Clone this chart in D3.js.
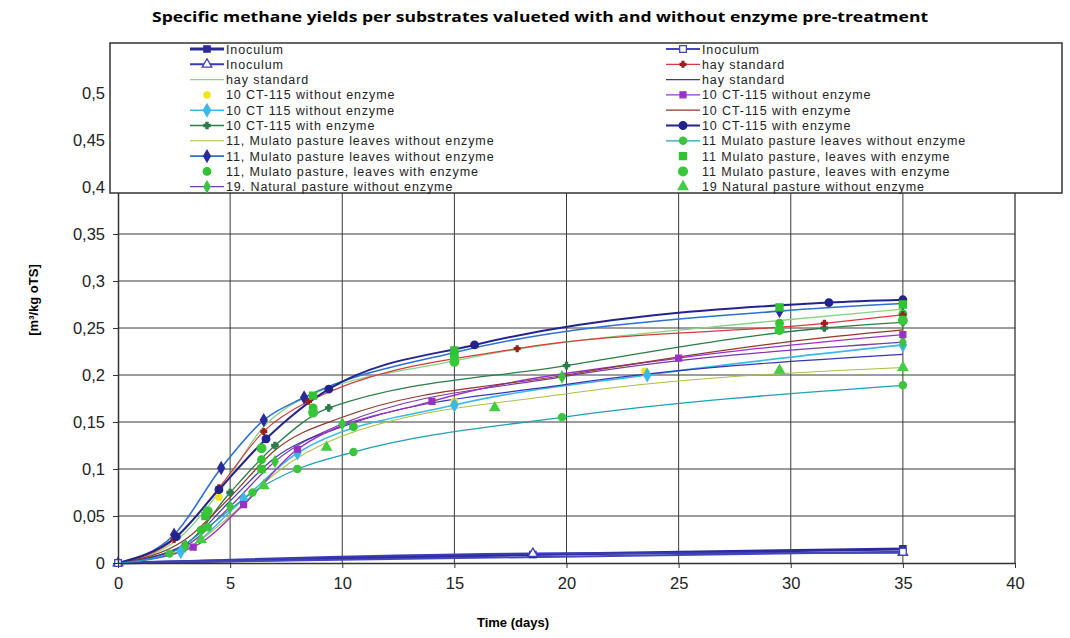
<!DOCTYPE html>
<html>
<head>
<meta charset="utf-8">
<script src="https://cdn.jsdelivr.net/npm/d3@7"></script>
<style>
  body { margin: 0; background: #fff; }
  svg { display: block; font-family: "Liberation Sans", Arial, sans-serif; }
</style>
</head>
<body>
<svg width="1070" height="638"></svg>
<script>
// tick values
const xTicks = [0, 5, 10, 15, 20, 25, 30, 35, 40];
const yTicks = [0, 0.05, 0.1, 0.15, 0.2, 0.25, 0.3, 0.35, 0.4, 0.45, 0.5];

// legend text, two columns
const legendLeft = ["Inoculum", "Inoculum", "hay standard", "10 CT-115  without enzyme", "10 CT 115  without enzyme",
  "10  CT-115  with enzyme", "11, Mulato  pasture leaves without enzyme", "11, Mulato  pasture leaves without enzyme",
  "11, Mulato  pasture, leaves with enzyme", "19. Natural pasture without enzyme"];
const legendRight = ["Inoculum", "hay standard", "hay standard", "10 CT-115  without enzyme", "10  CT-115  with enzyme",
  "10  CT-115  with enzyme", "11  Mulato pasture leaves without enzyme", "11  Mulato pasture, leaves with enzyme",
  "11  Mulato pasture, leaves with enzyme", "19  Natural pasture without enzyme"];

// series values [day, m3/kg oTS]
const inoculumA = [[0, 0], [18.5, 0.009], [35, 0.015]];
const inoculumB = [[0, 0], [18.5, 0.010], [35, 0.011]];
const inoculumC = [[0, 0], [35, 0.012]];
const hayGreen = [[0, 0], [2.5, 0.022], [4.5, 0.075], [6.5, 0.145], [8, 0.172], [15, 0.215], [29.5, 0.258], [35, 0.27]];
const hayRed = [[0, 0], [2.5, 0.025], [4.5, 0.08], [6.5, 0.14], [8.5, 0.172], [17.8, 0.228], [31.5, 0.255], [35, 0.264]];
const hayBlue = [[0, 0], [3, 0.02], [5, 0.066], [7, 0.112], [10, 0.145], [20, 0.19], [35, 0.222]];
const ct115NoYellow = [[4.5, 0.07], [8, 0.12], [15, 0.172], [23.5, 0.204]];
const ct115NoCyan = [[0, 0], [2.8, 0.012], [5.6, 0.068], [8, 0.117], [15, 0.168], [23.6, 0.2], [35, 0.232]];
const ct115NoPurple = [[0, 0], [3.35, 0.017], [5.6, 0.062], [8, 0.121], [14, 0.172], [25, 0.218], [35, 0.243]];
const ct115EnzGreen = [[0, 0], [3, 0.02], [5, 0.075], [7, 0.125], [9.4, 0.165], [20, 0.21], [31.5, 0.25], [35, 0.256]];
const ct115EnzBrown = [[0, 0], [3, 0.025], [5, 0.07], [7, 0.12], [10, 0.155], [20, 0.2], [31.6, 0.24], [35, 0.248]];
const ct115EnzNavy = [[0, 0], [2.6, 0.028], [4.5, 0.078], [6.6, 0.132], [9.4, 0.185], [15.9, 0.232], [31.7, 0.277], [35, 0.28]];
const mulatoNoOlive = [[0, 0], [3, 0.015], [5, 0.05], [7, 0.095], [10, 0.135], [20, 0.18], [35, 0.208]];
const mulatoNoBlue = [[0, 0], [2.5, 0.03], [4.6, 0.101], [6.5, 0.152], [8.3, 0.176], [15, 0.224], [29.5, 0.268], [35, 0.276]];
const mulatoNoTeal = [[0, 0], [2.3, 0.01], [4, 0.038], [6, 0.075], [8, 0.1], [10.5, 0.118], [19.8, 0.155], [35, 0.189]];
const mulatoEnzCircle = [[3.7, 0.035], [6.4, 0.11], [8.7, 0.165], [10.5, 0.145], [15, 0.22], [29.5, 0.255], [35, 0.265]];
const mulatoEnzSquare = [[3.9, 0.05], [6.4, 0.1], [8.7, 0.178], [15, 0.226], [29.5, 0.272], [35, 0.275]];
const mulatoEnzCircle2 = [[4, 0.055], [6.4, 0.122], [8.7, 0.16], [15, 0.214], [29.5, 0.248], [35, 0.258]];
const naturalPurple = [[0, 0], [3, 0.018], [5, 0.06], [7, 0.108], [10, 0.148], [19.8, 0.198], [35, 0.235]];
const naturalTri = [[3.7, 0.025], [6.5, 0.082], [9.3, 0.123], [16.8, 0.165], [29.5, 0.205], [35, 0.208]];

// styles, in legend order (left column then right column)
const series = [
  { data: inoculumA, line: "#2b2b9a", w: 3, sym: d3.symbolSquare, fill: "#2b2b9a", stroke: "#2b2b9a", size: 40, zero: true },
  { data: inoculumB, line: "#3b3bb5", w: 2, sym: d3.symbolTriangle, fill: "#fff", stroke: "#3b3bb5", size: 40, zero: true },
  { data: hayGreen, line: "#86d486", w: 1.3 },
  { data: ct115NoYellow, line: null, sym: d3.symbolCircle, fill: "#f2e419", stroke: "#f2e419", size: 30 },
  { data: ct115NoCyan, line: "#3cb8e6", w: 1.6, sym: d3.symbolDiamond, fill: "#3cb8e6", stroke: "#3cb8e6", size: 45 },
  { data: ct115EnzGreen, line: "#2a7d4a", w: 1.3, sym: d3.symbolCross, fill: "#2a7d4a", stroke: "#2a7d4a", size: 22 },
  { data: mulatoNoOlive, line: "#a8c040", w: 1.1 },
  { data: mulatoNoBlue, line: "#2f6fd0", w: 1.6, sym: d3.symbolDiamond, fill: "#2a2a9a", stroke: "#2a2a9a", size: 40 },
  { data: mulatoEnzCircle, line: null, sym: d3.symbolCircle, fill: "#33c233", stroke: "#33c233", size: 45 },
  { data: naturalPurple, line: "#7a3aa0", w: 1.2, sym: d3.symbolDiamond, fill: "#3cc43c", stroke: "#3cc43c", size: 35 },
  { data: inoculumC, line: "#4545c0", w: 2, sym: d3.symbolSquare, fill: "#fff", stroke: "#4545c0", size: 45, zero: true },
  { data: hayRed, line: "#d83a3a", w: 1.2, sym: d3.symbolCross, fill: "#9a1f1f", stroke: "#9a1f1f", size: 18 },
  { data: hayBlue, line: "#3535b0", w: 1.2 },
  { data: ct115NoPurple, line: "#9b30c8", w: 1.4, sym: d3.symbolSquare, fill: "#9b30c8", stroke: "#9b30c8", size: 35 },
  { data: ct115EnzBrown, line: "#8b3a2b", w: 1.2 },
  { data: ct115EnzNavy, line: "#23238e", w: 2, sym: d3.symbolCircle, fill: "#23238e", stroke: "#23238e", size: 45 },
  { data: mulatoNoTeal, line: "#1ea0b4", w: 1.3, sym: d3.symbolCircle, fill: "#3cc43c", stroke: "#3cc43c", size: 40 },
  { data: mulatoEnzSquare, line: null, sym: d3.symbolSquare, fill: "#33c233", stroke: "#33c233", size: 50 },
  { data: mulatoEnzCircle2, line: null, sym: d3.symbolCircle, fill: "#3ac63a", stroke: "#3ac63a", size: 60 },
  { data: naturalTri, line: null, sym: d3.symbolTriangle, fill: "#44cc44", stroke: "#44cc44", size: 40 }
];

const svg = d3.select("svg");
const plotLeft = 118, plotRight = 1015, plotTop = 46, plotBottom = 563;

const x = d3.scaleLinear().domain([0, 40]).range([plotLeft, plotRight]);
const y = d3.scaleLinear().domain([0, 0.55]).range([plotBottom, plotTop]);

// title
svg.append("text")
  .attr("x", 540).attr("y", 22)
  .attr("text-anchor", "middle")
  .attr("font-family", "'Open Sans', sans-serif")
  .attr("font-weight", "bold").attr("font-size", 13.5)
  .attr("textLength", 776).attr("lengthAdjust", "spacingAndGlyphs")
  .text("Specific methane yields per substrates valueted with and without enzyme pre-treatment");

// grid
const grid = svg.append("g").attr("stroke", "#3a3a3a").attr("stroke-width", 1);
grid.selectAll(".vg").data(xTicks.slice(1, -1)).enter().append("line")
  .attr("x1", d => x(d)).attr("x2", d => x(d)).attr("y1", plotTop).attr("y2", plotBottom);
grid.selectAll(".hg").data(yTicks.slice(1)).enter().append("line")
  .attr("x1", plotLeft).attr("x2", plotRight).attr("y1", d => y(d)).attr("y2", d => y(d));
svg.append("line").attr("x1", plotRight).attr("x2", plotRight).attr("y1", plotTop).attr("y2", plotBottom)
  .attr("stroke", "#333").attr("stroke-width", 1.3);

// curves
const line = d3.line().x(d => x(d[0])).y(d => y(d[1])).curve(d3.curveMonotoneX);
const plot = svg.append("g");
series.forEach(s => {
  if (s.line) {
    plot.append("path").attr("d", line(s.data))
      .attr("fill", "none").attr("stroke", s.line).attr("stroke-width", s.w);
  }
});
series.forEach(s => {
  if (!s.sym) return;
  const pts = s.data.filter(d => s.zero || d[0] > 0);
  plot.selectAll(null).data(pts).enter().append("path")
    .attr("d", d3.symbol().type(s.sym).size(s.size))
    .attr("transform", d => `translate(${x(d[0])},${y(d[1])})`)
    .attr("fill", s.fill).attr("stroke", s.stroke).attr("stroke-width", 1.3);
});

// axes
const fmt = d => String(d).replace(".", ",");
const xAxis = svg.append("g").attr("transform", `translate(0,${plotBottom})`)
  .call(d3.axisBottom(x).tickValues(xTicks).tickSize(5).tickSizeOuter(0).tickFormat(d => d));
const yAxis = svg.append("g").attr("transform", `translate(${plotLeft},0)`)
  .call(d3.axisLeft(y).tickValues(yTicks).tickSize(5).tickSizeOuter(0).tickFormat(fmt));
[xAxis, yAxis].forEach(a => {
  a.select(".domain").attr("stroke", "#333").attr("stroke-width", 1.5);
  a.selectAll(".tick line").attr("stroke", "#333");
  a.selectAll("text").attr("font-size", 16.5).attr("fill", "#222")
    .attr("font-family", "'Liberation Sans', Arial, sans-serif");
});
xAxis.selectAll("text").attr("dy", "1.1em");
yAxis.selectAll("text").attr("x", -13);

// axis titles
svg.append("text").attr("x", 513).attr("y", 627).attr("text-anchor", "middle")
  .attr("font-weight", "bold").attr("font-size", 13).text("Time (days)");
svg.append("text").attr("transform", "translate(38,300) rotate(-90)").attr("text-anchor", "middle")
  .attr("font-weight", "bold").attr("font-size", 13)
  .text("[m³/kg oTS]");

// legend
const lg = svg.append("g");
lg.append("rect").attr("x", 110).attr("y", 43).attr("width", 952).attr("height", 150)
  .attr("fill", "#fff").attr("stroke", "#333").attr("stroke-width", 1.5);
const rowY = i => 49 + i * 15.3;
const cols = [{ names: legendLeft, x0: 190, off: 0 }, { names: legendRight, x0: 666, off: 10 }];
cols.forEach(c => {
  c.names.forEach((name, i) => {
    const s = series[c.off + i];
    const cy = rowY(i);
    if (s.line) {
      lg.append("line").attr("x1", c.x0).attr("x2", c.x0 + 34).attr("y1", cy).attr("y2", cy)
        .attr("stroke", s.line).attr("stroke-width", s.w);
    }
    if (s.sym) {
      lg.append("path").attr("d", d3.symbol().type(s.sym).size(s.size))
        .attr("transform", `translate(${c.x0 + 17},${cy})`)
        .attr("fill", s.fill).attr("stroke", s.stroke).attr("stroke-width", 1.3);
    }
    lg.append("text").attr("x", c.x0 + 36).attr("y", cy + 4.5)
      .attr("font-size", 12.5).attr("fill", "#222").attr("letter-spacing", 0.9)
      .text(name);
  });
});
</script>
</body>
</html>
